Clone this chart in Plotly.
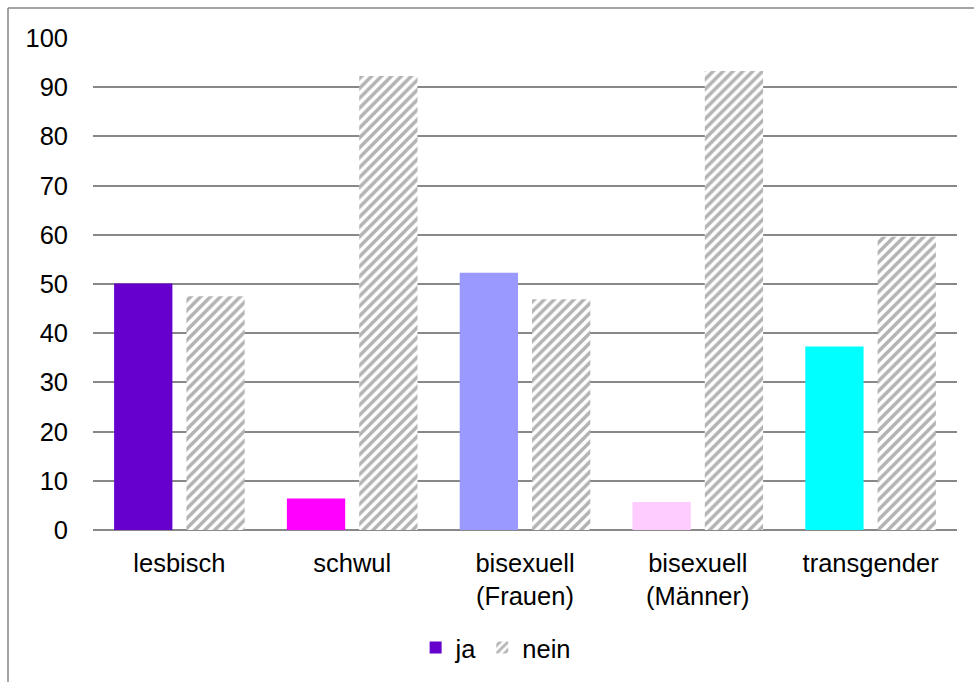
import plotly.graph_objects as go

categories = ["lesbisch", "schwul", "bisexuell<br>(Frauen)", "bisexuell<br>(Männer)", "transgender"]
ja_values = [50.1, 6.4, 52.3, 5.7, 37.3]
nein_values = [47.5, 92.3, 46.9, 93.3, 59.6]
ja_colors = ["#6600CC", "#FF00FF", "#9999FF", "#FFCCFF", "#00FFFF"]
y_ticks = [0, 10, 20, 30, 40, 50, 60, 70, 80, 90, 100]

W, H = 974, 682
L, R, T, B = 93, 17, 38, 151
pw, ph = W - L - R, H - T - B
FS = 25.5

fig = go.Figure()
fig.add_trace(go.Bar(
    x=categories, y=ja_values, name="ja",
    marker=dict(color=ja_colors, line=dict(width=0)),
))
fig.add_trace(go.Bar(
    x=categories, y=nein_values, name="nein",
    marker=dict(color="#ffffff", line=dict(width=0),
                pattern=dict(shape="/", fgcolor="#686868", bgcolor="#ffffff",
                             size=7, solidity=0.5)),
))

# outer chart border (only top and left visible)
bx = (8 - L) / pw
by = 1 + (T - 8) / ph
fig.add_shape(type="line", xref="paper", yref="paper", x0=bx, x1=1.2, y0=by, y1=by,
              line=dict(color="#868686", width=1.5))
fig.add_shape(type="line", xref="paper", yref="paper", x0=bx, x1=bx, y0=by, y1=-0.5,
              line=dict(color="#868686", width=1.5))

fig.update_layout(
    width=W, height=H,
    margin=dict(l=L, r=R, t=T, b=B),
    paper_bgcolor="#ffffff", plot_bgcolor="#ffffff",
    font=dict(family="Liberation Sans, Arial, sans-serif", size=FS, color="#000000"),
    barmode="group", bargap=0.163, bargroupgap=0.194,
    showlegend=True,
    legend=dict(orientation="h", x=0.466, xanchor="center", y=(531 - 648) / ph,
                yanchor="middle", font=dict(size=FS), itemwidth=30,
                traceorder="normal", itemsizing="constant"),
    xaxis=dict(showgrid=False, showline=False, zeroline=False, ticks="",
               ticklabelstandoff=15, tickfont=dict(size=FS)),
    yaxis=dict(range=[0, 100], tickvals=y_ticks, showgrid=True, gridcolor="#888888",
               gridwidth=1.5, zeroline=True, zerolinecolor="#888888", zerolinewidth=1.5,
               showline=False, ticks="", ticklabelstandoff=24, tickfont=dict(size=FS)),
)

fig.write_html("out.html")
